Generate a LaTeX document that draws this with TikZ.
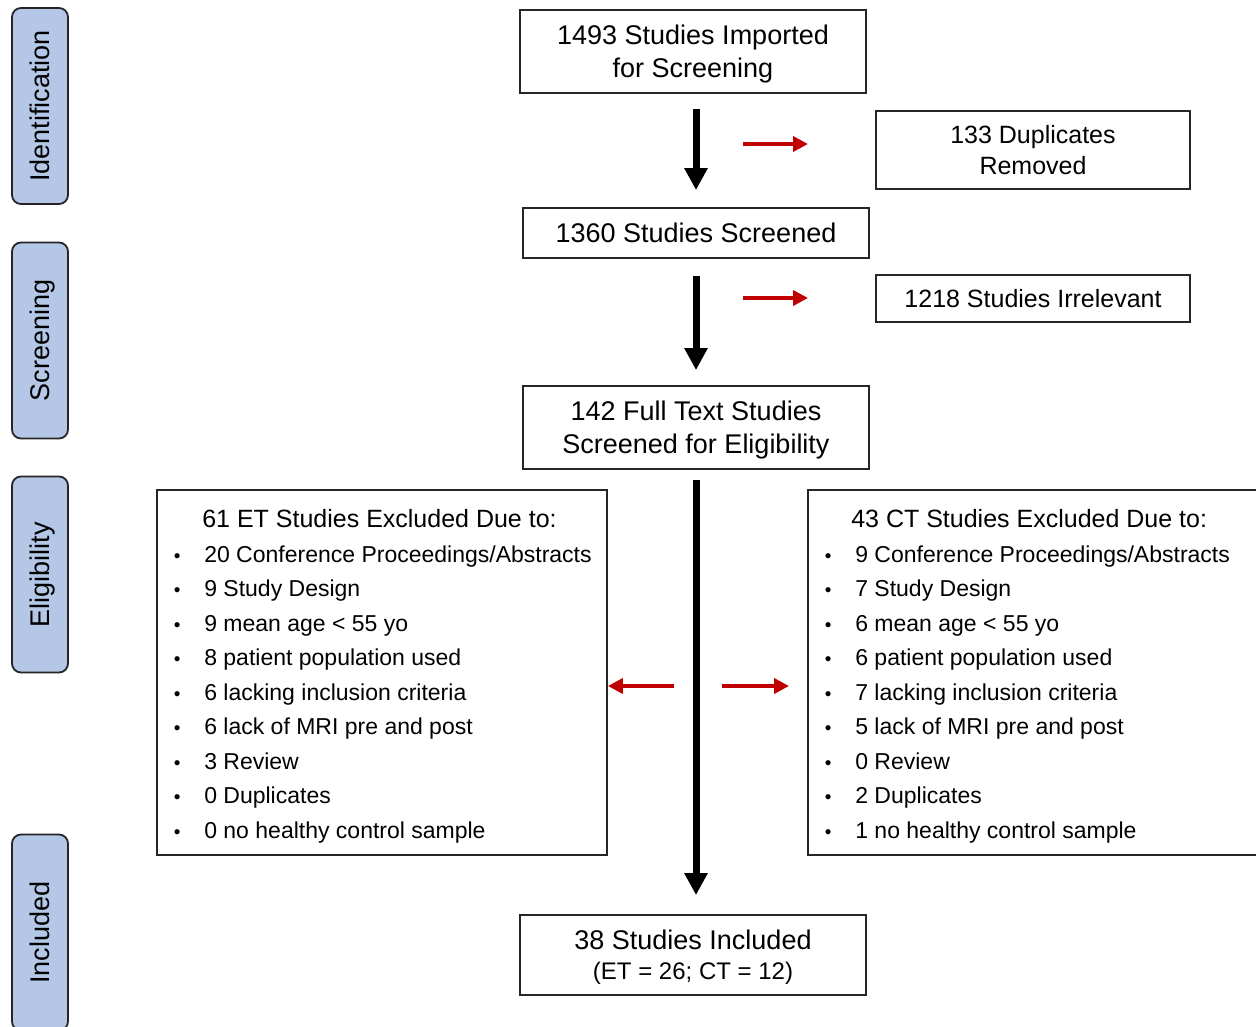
\documentclass[tikz,border=0pt]{standalone}
\usepackage{fontspec}
\setmainfont{Liberation Sans}
\usetikzlibrary{arrows.meta,calc}

\definecolor{stagefill}{HTML}{B4C7E7}
\definecolor{exclred}{HTML}{C00000}

\tikzset{
  box/.style={draw=black!85, line width=1.8pt, inner sep=0pt, align=center,
    text depth=0pt, font=\fontsize{27}{33}\selectfont},
  sidebox/.style={box, fill=stagefill, rounded corners=9pt, rotate=90,
    minimum width=196pt, minimum height=56pt},
  flowarr/.style={line width=7pt, -{Triangle[width=22pt,length=22pt]}},
  redarr/.style={draw=exclred, line width=4.5pt, -{Triangle[width=15pt,length=15pt]}},
  head/.style={anchor=base west, inner sep=0pt, font=\fontsize{25}{30}\selectfont},
  item/.style={anchor=base west, inner sep=0pt, font=\fontsize{23}{28}\selectfont},
  bul/.style={anchor=base, inner sep=0pt, font=\fontsize{19}{22}\selectfont},
}

\begin{document}
\begin{tikzpicture}[x=1pt, y=-1pt]
\clip (0,0) rectangle (1256,1026);

% stages
\node[sidebox] (sid) at (40,106) {Identification};
\node[sidebox] (sscr) at (40,340.5) {Screening};
\node[sidebox] (selig) at (40,574.5) {Eligibility};
\node[sidebox] (sinc) at (40,932.5) {Included};

% main flow
\node[box, minimum width=346pt, minimum height=83pt] (imp) at (693,51.5)
  {1493 Studies Imported\\for Screening};
\node[box, minimum width=346pt, minimum height=50pt] (scr) at (696,233)
  {1360 Studies Screened};
\node[box, minimum width=346pt, minimum height=83pt] (full) at (696,427.5)
  {142 Full Text Studies\\Screened for Eligibility};
\node[box, minimum width=346pt, minimum height=80pt] (incl) at (693,955)
  {38 Studies Included\\[-3pt]{\fontsize{24}{31}\selectfont (ET = 26; CT = 12)}};

% removed
\node[box, minimum width=314pt, minimum height=78pt,
  font=\fontsize{25}{31}\selectfont] (dup) at (1033,150)
  {133 Duplicates\\Removed};
\node[box, minimum width=314pt, minimum height=47pt,
  font=\fontsize{25}{31}\selectfont] (irr) at (1033,298.5)
  {1218 Studies Irrelevant};

% excluded
\node[box, minimum width=450pt, minimum height=365pt] (etx) at (382,672.5) {};
\node[box, minimum width=452pt, minimum height=365pt] (ctx) at (1034,672.5) {};

\node[head] (eth) at ($(etx.north west)+(46,38)$) {61 ET Studies Excluded Due to:};
\foreach \t [count=\i] in {20 Conference Proceedings/Abstracts, 9 Study Design,
    9 mean age < 55 yo, 8 patient population used, 6 lacking inclusion criteria,
    6 lack of MRI pre and post, 3 Review, 0 Duplicates, 0 no healthy control sample} {
  \node[bul] (etb\i) at ($(etx.north west)+(21,38.5+34.5*\i)$) {\textbullet};
  \node[item] (ett\i) at ($(etx.north west)+(48,38.5+34.5*\i)$) {\t};
}

\node[head] (cth) at ($(ctx.north west)+(44,38)$) {43 CT Studies Excluded Due to:};
\foreach \t [count=\i] in {9 Conference Proceedings/Abstracts, 7 Study Design,
    6 mean age < 55 yo, 6 patient population used, 7 lacking inclusion criteria,
    5 lack of MRI pre and post, 0 Review, 2 Duplicates, 1 no healthy control sample} {
  \node[bul] (ctb\i) at ($(ctx.north west)+(21,38.5+34.5*\i)$) {\textbullet};
  \node[item] (ctt\i) at ($(ctx.north west)+(48,38.5+34.5*\i)$) {\t};
}

% arrows
\draw[flowarr, shorten <=15pt, shorten >=17pt] (imp.south -| scr.north) -- (scr.north);
\draw[flowarr, shorten <=17pt, shorten >=15pt] (scr.south) -- (full.north);
\draw[flowarr, shorten <=10pt, shorten >=19pt] (full.south) -- (incl.north -| full.south);

\coordinate (d1) at (743,144); % to duplicates
\coordinate (d2) at (808,144);
\coordinate (i1) at (743,298); % to irrelevant
\coordinate (i2) at (808,298);
\coordinate (l1) at (674,686); % to ET
\coordinate (r1) at (722,686); % to CT
\coordinate (r2) at (789,686);

\draw[redarr] (d1) -- (d2);
\draw[redarr] (i1) -- (i2);
\draw[redarr] (l1) -- (l1 -| etx.east);
\draw[redarr] (r1) -- (r2);
\end{tikzpicture}
\end{document}
